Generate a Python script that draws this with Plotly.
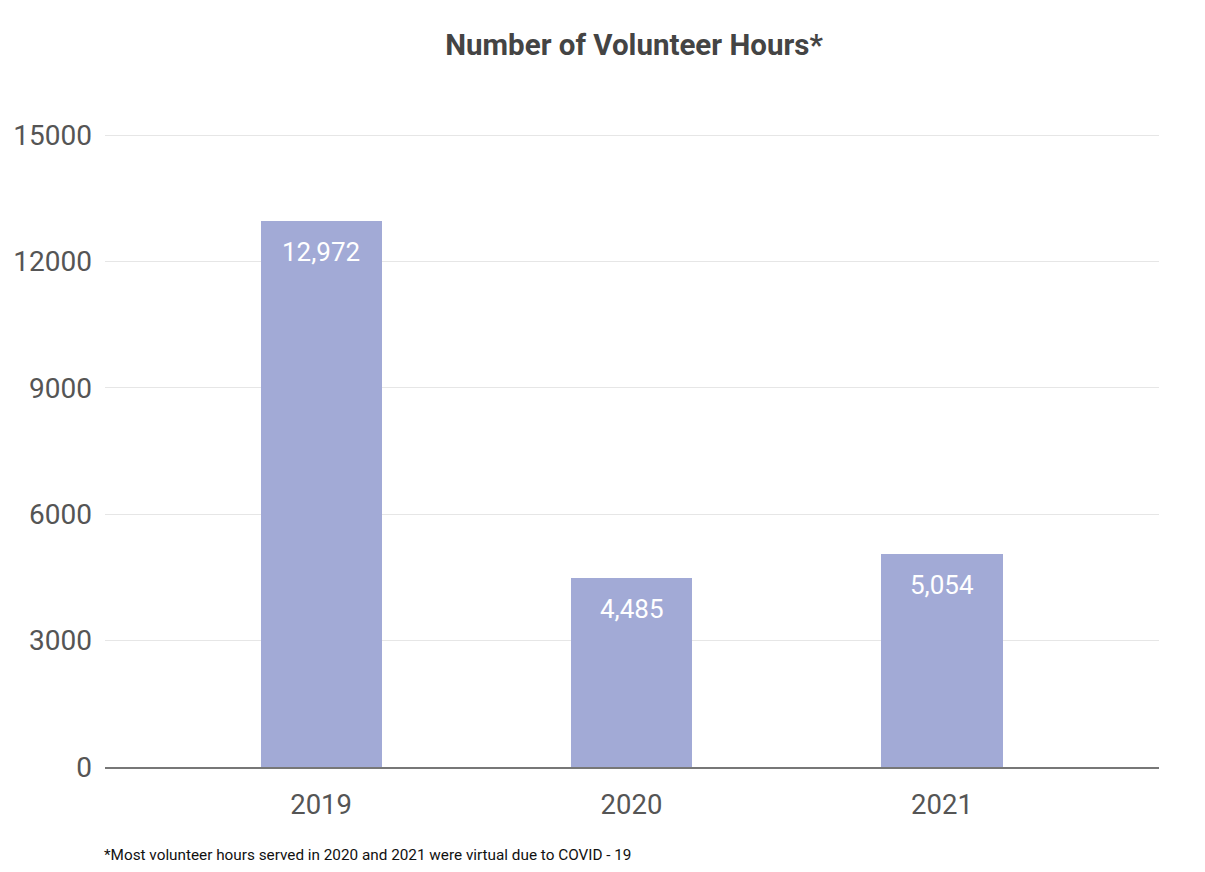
import plotly.graph_objects as go

years = ["2019", "2020", "2021"]
hours = [12972, 4485, 5054]
labels = ["12,972", "4,485", "5,054"]
y_ticks = [0, 3000, 6000, 9000, 12000, 15000]

x_pos = list(range(len(years)))
bar_color = "#a2aad6"

fig = go.Figure()
fig.add_trace(go.Bar(
    x=x_pos, y=hours, width=0.39, marker=dict(color=bar_color, line=dict(width=0)),
    hoverinfo="skip",
))

for x, v, t in zip(x_pos, hours, labels):
    fig.add_annotation(x=x, y=v, text=t, showarrow=False, yanchor="middle", yshift=-31,
                       font=dict(family="Roboto", size=26, color="white"))

fig.add_annotation(x=0, xref="paper", xanchor="left", xshift=-3, y=-0.138, yref="paper", yanchor="middle",
                   text="*Most volunteer hours served in 2020 and 2021 were virtual due to COVID - 19",
                   showarrow=False, font=dict(family="Roboto", size=15.3, color="#111111"))

fig.update_layout(
    width=1197, height=864,
    paper_bgcolor="white", plot_bgcolor="white",
    margin=dict(l=97, r=46, t=123, b=105, autoexpand=False),
    title=dict(text="<b>Number of Volunteer Hours*</b>", x=0.523, xanchor="center", y=0.958, yanchor="middle",
               font=dict(family="Roboto", size=29.5, color="#444444")),
    showlegend=False,
    bargap=0,
)
fig.update_xaxes(
    range=[-0.696, 2.699], tickvals=x_pos, ticktext=years, showgrid=False, zeroline=False,
    showline=True, linecolor="#777777", linewidth=1.5, automargin=False,
    tickfont=dict(family="Roboto", size=27.5, color="#555555"), ticks="", ticklabelstandoff=12,
)
fig.update_yaxes(
    range=[0, 15100], tickvals=y_ticks, ticktext=[str(v) for v in y_ticks],
    showgrid=True, gridcolor="#e6e6e6", gridwidth=1, zeroline=False, automargin=False,
    tickfont=dict(family="Roboto", size=28, color="#555555"), ticks="", ticklabelstandoff=12,
)

fig.write_html("out.html")
